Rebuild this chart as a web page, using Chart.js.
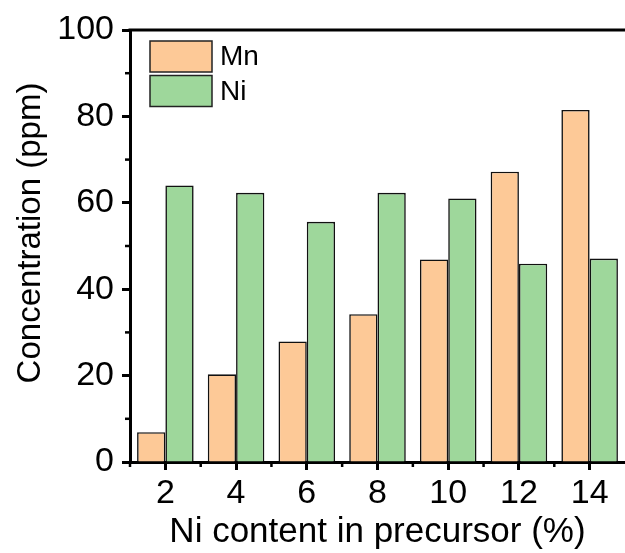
<!DOCTYPE html>
<html>
<head>
<meta charset="utf-8">
<script src="https://cdn.jsdelivr.net/npm/chart.js@4/dist/chart.umd.min.js"></script>
<style>
  html, body { margin: 0; padding: 0; background: #fff; }
  #wrap { width: 625px; height: 553px; position: relative; }
</style>
</head>
<body>
<div id="wrap"><canvas id="c" width="625" height="553"></canvas></div>
<script>
const categories = ['2', '4', '6', '8', '10', '12', '14'];
const mnValues = [6.9, 20.3, 27.9, 34.2, 46.9, 67.2, 81.5];
const niValues = [64.0, 62.3, 55.6, 62.3, 61.0, 45.9, 47.1];
const seriesNames = ['Mn', 'Ni'];
const yTicks = [0, 20, 40, 60, 80, 100];
const xTitle = 'Ni content in precursor (%)';
const yTitle = 'Concentration (ppm)';

const FONT = "'Liberation Sans', Arial, sans-serif";
const MN_COLOR = '#FDC997';
const NI_COLOR = '#9ED79B';

const framePlugin = {
  id: 'frame',
  afterDraw(chart) {
    const ctx = chart.ctx;
    const area = chart.chartArea;
    const x = chart.scales.x, y = chart.scales.y;
    ctx.save();
    ctx.strokeStyle = '#000';
    // top frame line
    ctx.lineWidth = 3;
    ctx.beginPath();
    ctx.moveTo(area.left - 1.5, area.top);
    ctx.lineTo(area.right, area.top);
    ctx.stroke();
    // minor y ticks
    ctx.lineWidth = 2.5;
    for (let v = 10; v < 100; v += 20) {
      const py = y.getPixelForValue(v);
      ctx.beginPath();
      ctx.moveTo(area.left - 5, py);
      ctx.lineTo(area.left, py);
      ctx.stroke();
    }
    // minor x ticks at category boundaries
    const n = categories.length;
    const step = (area.right - area.left) / n;
    for (let i = 0; i < n; i++) {
      const px = x.getPixelForTick(i) - step / 2;
      ctx.beginPath();
      ctx.moveTo(px, area.bottom);
      ctx.lineTo(px, area.bottom + 5);
      ctx.stroke();
    }
    // y title
    ctx.fillStyle = '#000';
    ctx.font = '33px ' + FONT;
    ctx.textAlign = 'center';
    ctx.textBaseline = 'middle';
    ctx.translate(31, 233);
    ctx.rotate(-Math.PI / 2);
    ctx.fillText(chart.options.scales.y.title.text, 0, 0);
    ctx.restore();

    // legend
    ctx.save();
    const ds = chart.data.datasets;
    ds.forEach((d, i) => {
      const bx = 150, by = 41 + i * 34.5, bw = 62, bh = 31;
      ctx.fillStyle = d.backgroundColor;
      ctx.fillRect(bx, by, bw, bh);
      ctx.strokeStyle = '#222';
      ctx.lineWidth = 1.5;
      ctx.strokeRect(bx, by, bw, bh);
      ctx.fillStyle = '#000';
      ctx.font = '28px ' + FONT;
      ctx.textAlign = 'left';
      ctx.textBaseline = 'middle';
      ctx.fillText(d.label, 220, by + bh / 2 + 1);
    });
    ctx.restore();
  }
};

new Chart(document.getElementById('c'), {
  type: 'bar',
  data: {
    labels: categories,
    datasets: [
      { label: seriesNames[0], data: mnValues, backgroundColor: MN_COLOR, borderColor: '#111', borderWidth: 1.6 },
      { label: seriesNames[1], data: niValues, backgroundColor: NI_COLOR, borderColor: '#111', borderWidth: 1.6 }
    ]
  },
  options: {
    responsive: false,
    animation: false,
    devicePixelRatio: 1,
    layout: { padding: { left: 0, top: 30, right: 0, bottom: 0 } },
    datasets: { bar: { categoryPercentage: 0.8, barPercentage: 1.0 } },
    plugins: { legend: { display: false }, tooltip: { enabled: false } },
    scales: {
      x: {
        offset: true,
        grid: { offset: false, drawOnChartArea: false, drawTicks: true, tickLength: 8, tickWidth: 3, color: '#000' },
        border: { display: true, width: 3, color: '#000' },
        ticks: { color: '#000', font: { family: FONT, size: 34 }, padding: 3, maxRotation: 0 },
        title: { display: true, text: xTitle, color: '#000', font: { family: FONT, size: 35 }, padding: { top: 0, bottom: 0 } },
        afterFit(scale) { scale.height = 91; }
      },
      y: {
        min: 0, max: 100,
        afterBuildTicks(scale) { scale.ticks = yTicks.map(v => ({ value: v })); },
        grid: { drawOnChartArea: false, drawTicks: true, tickLength: 8, tickWidth: 3, color: '#000' },
        border: { display: true, width: 3, color: '#000' },
        ticks: { color: '#000', font: { family: FONT, size: 34 }, padding: 8 },
        title: { display: false, text: yTitle },
        afterFit(scale) { scale.width = 130; }
      }
    }
  },
  plugins: [framePlugin]
});
</script>
</body>
</html>
